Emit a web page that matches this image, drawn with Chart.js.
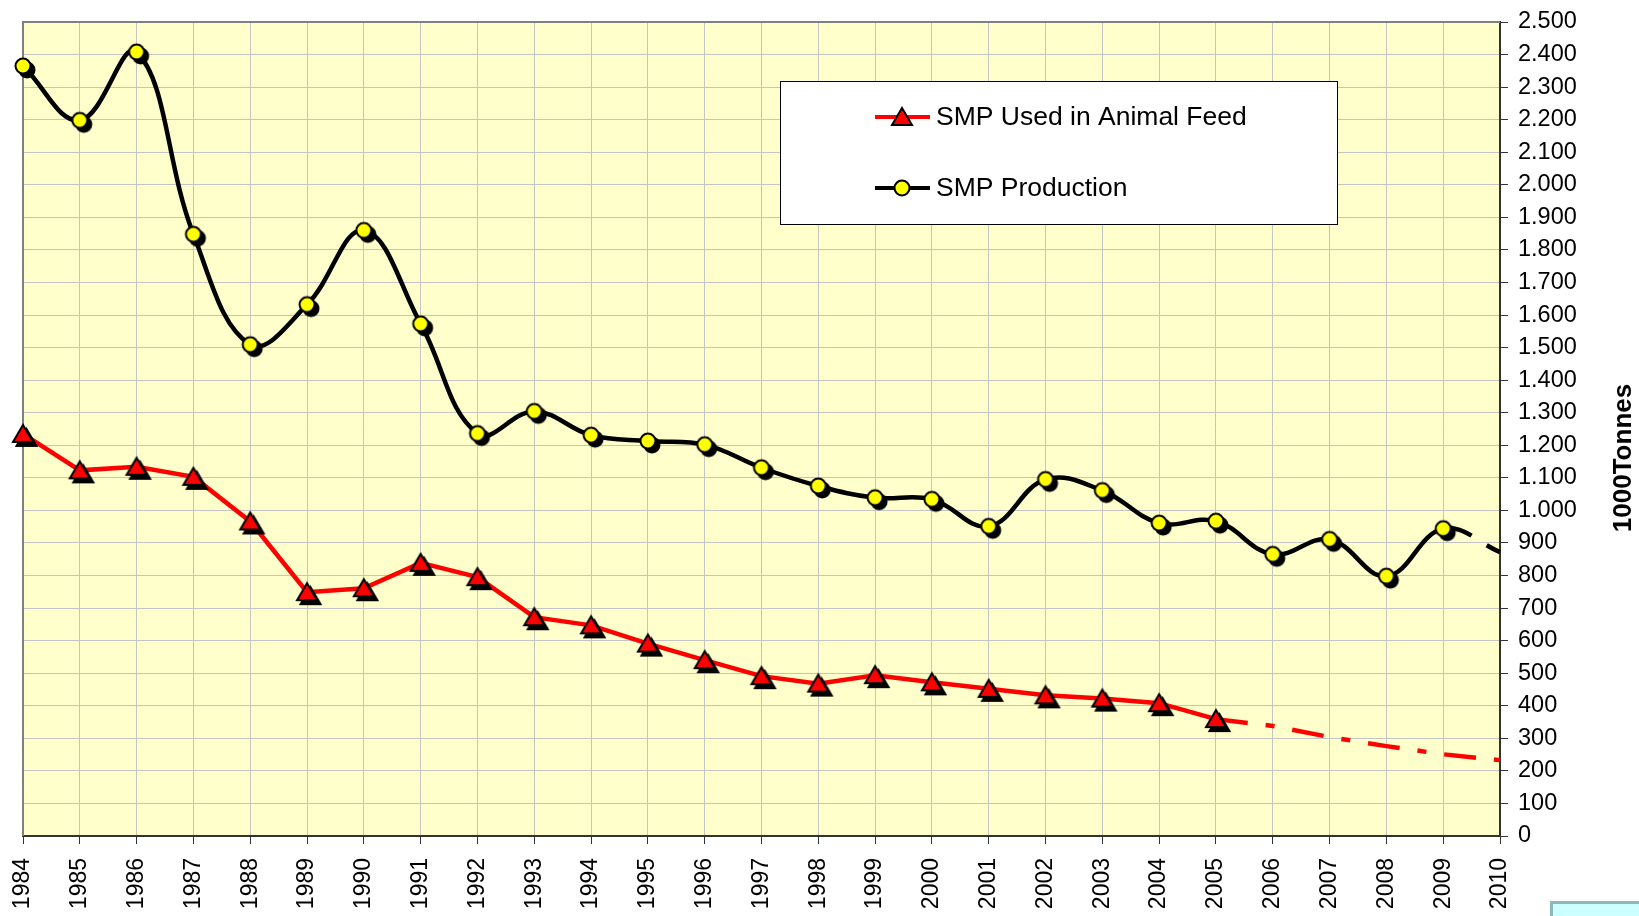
<!DOCTYPE html>
<html>
<head>
<meta charset="utf-8">
<script src="https://cdn.jsdelivr.net/npm/chart.js@4"></script>
<style>
    html, body { margin: 0; padding: 0; background: #ffffff; }
    #wrap { width: 1639px; height: 916px; position: relative; }
</style>
</head>
<body>
<div id="wrap"><canvas id="smpChart"></canvas></div>
<script>
// ==============================
// Data (1000 tonnes)
// ==============================

const years = [
    "1984", "1985", "1986", "1987", "1988", "1989", "1990", "1991", "1992",
    "1993", "1994", "1995", "1996", "1997", "1998", "1999", "2000", "2001",
    "2002", "2003", "2004", "2005", "2006", "2007", "2008", "2009", "2010"
];

// last points are the dashed projections
const animalFeed = [
    1235, 1123, 1134, 1103, 966, 749, 761, 839, 795,
    672, 647, 591, 540, 491, 468, 494, 472, 452,
    432, 422, 408, 359, 338, 304, 276, 251, 233
];

const production = [
    2365, 2198, 2408, 1848, 1509, 1632, 1860, 1573, 1236,
    1304, 1231, 1213, 1202, 1131, 1075, 1039, 1034, 951,
    1095, 1061, 961, 967, 865, 911, 798, 944, 872
];

const feedLastActual = 21;       // 2005
const productionLastActual = 25; // 2009

const FONT = "'Liberation Sans', Arial, sans-serif";

// ==============================
// Marker images (with drop shadow)
// ==============================

function circleMarker(shadow) {
    const c = document.createElement("canvas");
    c.width = 40;
    c.height = 40;
    const g = c.getContext("2d");
    if (shadow) {
        g.fillStyle = "#000";
        g.beginPath();
        g.arc(24, 24, 8.5, 0, Math.PI * 2);
        g.fill();
    }
    g.fillStyle = "#ffff00";
    g.strokeStyle = "#000";
    g.lineWidth = 2;
    g.beginPath();
    g.arc(20, 20, 7.5, 0, Math.PI * 2);
    g.fill();
    g.stroke();
    return c;
}

function triangleMarker(shadow) {
    const c = document.createElement("canvas");
    c.width = 40;
    c.height = 40;
    const g = c.getContext("2d");
    const tri = (cx, cy) => {
        g.beginPath();
        g.moveTo(cx, cy - 9);
        g.lineTo(cx + 10, cy + 8);
        g.lineTo(cx - 10, cy + 8);
        g.closePath();
    };
    if (shadow) {
        g.fillStyle = "#000";
        tri(23.5, 24);
        g.fill();
        g.lineWidth = 2;
        g.strokeStyle = "#000";
        g.stroke();
    }
    g.fillStyle = "#ff0000";
    g.strokeStyle = "#000";
    g.lineWidth = 2;
    g.lineJoin = "miter";
    tri(20, 20);
    g.fill();
    g.stroke();
    return c;
}

const circleImg = circleMarker(true);
const triangleImg = triangleMarker(true);

const feedRadius = animalFeed.map((v, i) => i <= feedLastActual ? 8 : 0);
const prodRadius = production.map((v, i) => i <= productionLastActual ? 8 : 0);

function fmt(v) {
    if (v >= 1000) {
        return Math.floor(v / 1000) + "." + String(v % 1000).padStart(3, "0");
    }
    return String(v);
}

// ==============================
// Plot background, borders, legend, axis title
// ==============================

const decorPlugin = {
    id: "decor",
    beforeDraw(chart) {
        const { ctx, chartArea: a } = chart;
        ctx.save();
        ctx.fillStyle = "#ffffcc";
        ctx.fillRect(a.left, a.top, a.right - a.left, a.bottom - a.top);
        ctx.restore();
    },
    beforeDatasetsDraw(chart) {
        const { ctx, chartArea: a } = chart;
        ctx.save();
        ctx.strokeStyle = "#808080";
        ctx.lineWidth = 2;
        ctx.beginPath();
        ctx.moveTo(a.left, a.bottom);
        ctx.lineTo(a.left, a.top);
        ctx.lineTo(a.right, a.top);
        ctx.stroke();
        ctx.restore();
    },
    afterDraw(chart) {
        const ctx = chart.ctx;
        ctx.save();

        // legend box
        ctx.fillStyle = "#ffffff";
        ctx.fillRect(780, 81, 558, 144);
        ctx.strokeStyle = "#000";
        ctx.lineWidth = 1;
        ctx.strokeRect(780.5, 81.5, 557, 143);

        const rows = [
            { y: 117, color: "#ff0000", img: triangleMarker(false), label: chart.data.datasets[0].label },
            { y: 188, color: "#000000", img: circleMarker(false), label: chart.data.datasets[1].label }
        ];
        rows.forEach(r => {
            ctx.strokeStyle = r.color;
            ctx.lineWidth = 4;
            ctx.beginPath();
            ctx.moveTo(875, r.y);
            ctx.lineTo(930, r.y);
            ctx.stroke();
            ctx.drawImage(r.img, 902 - 20, r.y - 20);
            ctx.fillStyle = "#000";
            ctx.font = "26.5px " + FONT;
            ctx.textAlign = "left";
            ctx.textBaseline = "middle";
            ctx.fillText(r.label, 936, r.y + 1);
        });

        // axis title
        ctx.translate(1624, 458);
        ctx.rotate(-Math.PI / 2);
        ctx.font = "bold 26px " + FONT;
        ctx.textAlign = "center";
        ctx.textBaseline = "middle";
        ctx.fillStyle = "#000";
        ctx.fillText("1000Tonnes", 0, 0);
        ctx.restore();

        // small box in the lower right corner
        ctx.save();
        ctx.fillStyle = "#ccffff";
        ctx.fillRect(1550, 901, 100, 20);
        ctx.strokeStyle = "#8fb8b8";
        ctx.lineWidth = 3;
        ctx.strokeRect(1551.5, 902.5, 100, 20);
        ctx.restore();
    }
};

// ==============================
// SMP Chart
// ==============================

const smpCtx = document.getElementById("smpChart");

new Chart(smpCtx, {
    type: "line",
    data: {
        labels: years,
        datasets: [{
            label: "SMP Used in Animal Feed",
            data: animalFeed,
            borderColor: "#ff0000",
            borderWidth: 4.5,
            tension: 0,
            pointStyle: triangleImg,
            pointRadius: feedRadius,
            clip: false,
            segment: {
                borderDash: c => c.p0DataIndex >= feedLastActual ? [32, 18, 9, 18] : undefined
            }
        }, {
            label: "SMP Production",
            data: production,
            borderColor: "#000000",
            borderWidth: 4.5,
            tension: 0.4,
            pointStyle: circleImg,
            pointRadius: prodRadius,
            clip: false,
            segment: {
                borderDash: c => c.p0DataIndex >= productionLastActual ? [30, 18] : undefined
            }
        }]
    },
    options: {
        responsive: true,
        maintainAspectRatio: false,
        animation: false,
        events: [],
        layout: {
            padding: { left: 23, top: 22, right: 0, bottom: 0 }
        },
        plugins: {
            legend: { display: false },
            tooltip: { enabled: false }
        },
        scales: {
            x: {
                type: "category",
                offset: false,
                grid: {
                    color: "#c4c4c4",
                    lineWidth: 1,
                    tickColor: "#333",
                    tickLength: 8
                },
                border: { color: "#333", width: 2 },
                ticks: {
                    minRotation: 90,
                    maxRotation: 90,
                    autoSkip: false,
                    padding: 14,
                    color: "#000",
                    font: { family: FONT, size: 23 }
                },
                afterFit(scale) {
                    scale.height = 80;
                }
            },
            y: {
                position: "right",
                min: 0,
                max: 2500,
                grid: {
                    color: "#c4c4c4",
                    lineWidth: 1,
                    tickColor: "#333",
                    tickLength: 8
                },
                border: { color: "#333", width: 2 },
                ticks: {
                    stepSize: 100,
                    padding: 10,
                    color: "#000",
                    font: { family: FONT, size: 23.5 },
                    callback: v => fmt(v)
                },
                afterFit(scale) {
                    scale.width = 139;
                    scale.paddingTop = 0;
                    scale.paddingBottom = 0;
                }
            }
        }
    },
    plugins: [decorPlugin]
});
</script>
</body>
</html>
